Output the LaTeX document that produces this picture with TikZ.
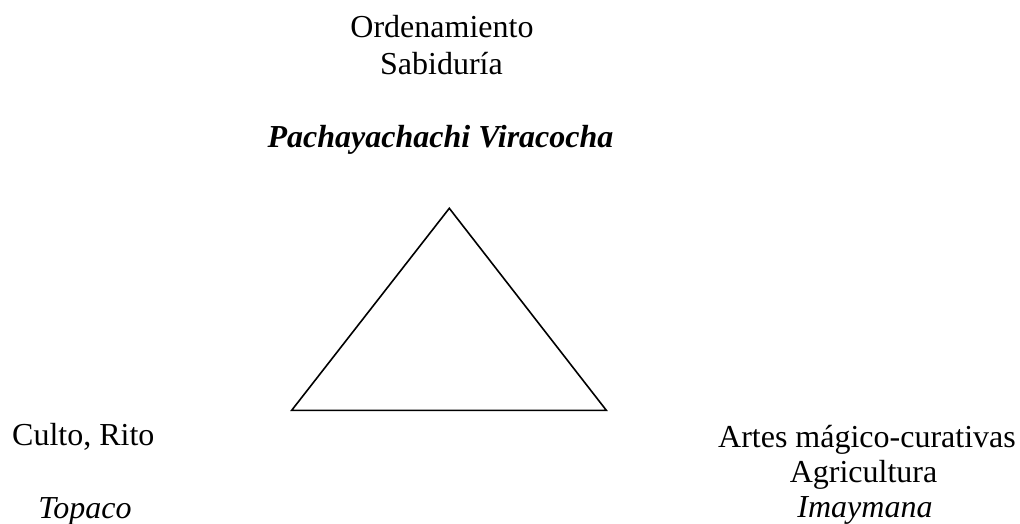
\documentclass[tikz,border=0pt]{standalone}
\usepackage{fontspec}
\setmainfont{Liberation Serif}
\begin{document}
\begin{tikzpicture}[x=1pt,y=-1pt,
  lbl/.style={inner sep=0pt, anchor=base, font=\fontsize{32}{37}\selectfont},
  lblit/.style={lbl, font=\fontsize{32}{37}\selectfont\itshape},
  lblbi/.style={lbl, font=\fontsize{32}{37}\selectfont\bfseries\itshape},
  tri/.style={draw=black, line width=1.6pt, line join=miter}]
\useasboundingbox (0,0) rectangle (1020,524);
\node[lbl] (orden) at (442,38) {Ordenamiento};
\node[lbl] (sabid) at (441.5,75) {Sabiduría};
\node[lblbi] (pacha) at (440.5,148) {Pachayachachi Viracocha};
\node[lbl, anchor=base west] (culto) at (12,445) {Culto, Rito};
\node[lblit] (topaco) at (85,518) {Topaco};
\node[lbl] (artes) at (867,447) {Artes mágico-curativas};
\node[lbl] (agri) at (863.5,482) {Agricultura};
\node[lblit] (imay) at (865,517) {Imaymana};
\coordinate (apex) at (449.3,208.3);
\coordinate (bl) at (291.7,410.3);
\coordinate (br) at (606.3,410.3);
\draw[tri] (apex) -- (bl) -- (br) -- cycle;
\end{tikzpicture}
\end{document}
